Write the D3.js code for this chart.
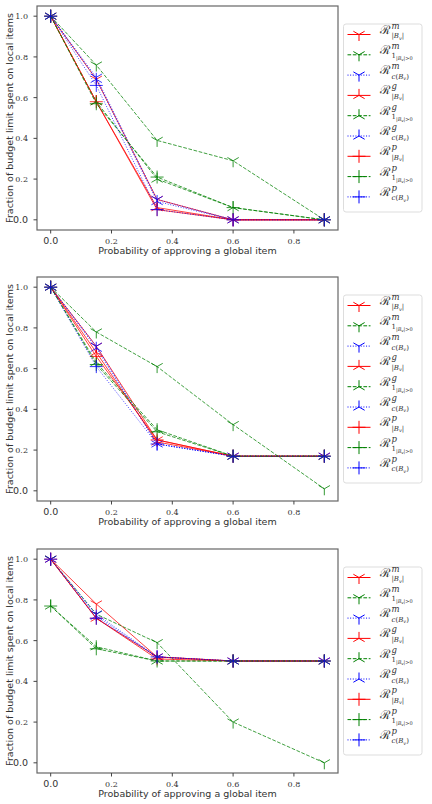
<!DOCTYPE html>
<html>
<head>
<meta charset="utf-8">
<script src="https://cdn.jsdelivr.net/npm/d3@7"></script>
<style>
  body { margin: 0; background: #fff; }
  svg { display: block; }
</style>
</head>
<body>
<script>
// x positions shared by every series
var xValues = [0, 0.15, 0.35, 0.6, 0.9];
var xTicks = [0, 0.2, 0.4, 0.6, 0.8];
var yTicks = [0, 0.2, 0.4, 0.6, 0.8, 1.0];

// series order: (m,g,p) x (|Bv|, 1_{|Bv|>0}, c(Bv))
var seriesKeys = ["m_B", "m_1", "m_c", "g_B", "g_1", "g_c", "p_B", "p_1", "p_c"];

// top panel
var panel1 = {
  m_B: [1, 0.69, 0.10, 0, 0],
  m_1: [1, 0.76, 0.39, 0.29, 0],
  m_c: [1, 0.70, 0.10, 0, 0],
  g_B: [1, 0.58, 0.06, 0, 0],
  g_1: [1, 0.58, 0.20, 0.06, 0],
  g_c: [1, 0.69, 0.09, 0, 0],
  p_B: [1, 0.58, 0.05, 0, 0],
  p_1: [1, 0.57, 0.21, 0.06, 0],
  p_c: [1, 0.66, 0.05, 0, 0]
};
// middle panel
var panel2 = {
  m_B: [1, 0.71, 0.25, 0.17, 0.17],
  m_1: [1, 0.78, 0.61, 0.325, 0.01],
  m_c: [1, 0.71, 0.23, 0.17, 0.17],
  g_B: [1, 0.68, 0.24, 0.17, 0.17],
  g_1: [1, 0.63, 0.30, 0.17, 0.17],
  g_c: [1, 0.70, 0.23, 0.17, 0.17],
  p_B: [1, 0.66, 0.25, 0.17, 0.17],
  p_1: [1, 0.62, 0.29, 0.17, 0.17],
  p_c: [1, 0.61, 0.23, 0.17, 0.17]
};
// bottom panel
var panel3 = {
  m_B: [1, 0.78, 0.52, 0.5, 0.5],
  m_1: [1, 0.73, 0.59, 0.20, 0],
  m_c: [1, 0.73, 0.52, 0.5, 0.5],
  g_B: [1, 0.71, 0.52, 0.5, 0.5],
  g_1: [0.77, 0.57, 0.50, 0.5, 0.5],
  g_c: [1, 0.72, 0.52, 0.5, 0.5],
  p_B: [1, 0.71, 0.51, 0.5, 0.5],
  p_1: [0.77, 0.56, 0.50, 0.5, 0.5],
  p_c: [1, 0.71, 0.52, 0.5, 0.5]
};

var panels = [panel1, panel2, panel3];
var panelTops = [6, 277, 549];

(function draw(){
  var width = 432, height = 804;
  var plotLeft = 37, plotRight = 338, plotH = 224;

  var colors = { B: "#ff0000", "1": "#008000", c: "#0000ff" };
  var dashes = { B: null, "1": "3.7,1.6", c: "1,1.65" };

  var svg = d3.select("body").append("svg")
    .attr("width", width)
    .attr("height", height);

  var x = d3.scaleLinear().domain([-0.045, 0.945]).range([plotLeft, plotRight]);

  //marker shapes: m = tri_down, g = tri_up, p = plus
  function markerPath(kind, r){
    if (kind === "m") {
      return "M0,0L0," + r + "M0,0L" + (-0.866*r) + "," + (-0.5*r) + "M0,0L" + (0.866*r) + "," + (-0.5*r);
    } else if (kind === "g") {
      return "M0,0L0," + (-r) + "M0,0L" + (-0.866*r) + "," + (0.5*r) + "M0,0L" + (0.866*r) + "," + (0.5*r);
    }
    return "M" + (-r) + ",0L" + r + ",0M0," + (-r) + "L0," + r;
  }

  panels.forEach(function(data, pi){
    var top = panelTops[pi];
    var y = d3.scaleLinear().domain([-0.05, 1.05]).range([top + plotH, top]);
    var g = svg.append("g");

    //series lines and markers
    seriesKeys.forEach(function(key){
      var kind = key[0], cat = key.split("_")[1];
      var vals = data[key];
      var pts = xValues.map(function(xv, i){ return [x(xv), y(vals[i])]; });
      var line = d3.line();
      g.append("path")
        .attr("d", line(pts))
        .attr("fill", "none")
        .attr("stroke", colors[cat])
        .attr("stroke-width", 1)
        .attr("stroke-opacity", 0.75)
        .attr("stroke-dasharray", dashes[cat]);
      g.selectAll(null)
        .data(pts)
        .enter()
        .append("path")
        .attr("transform", function(d){ return "translate(" + d[0] + "," + d[1] + ")"; })
        .attr("d", markerPath(kind, 6.5))
        .attr("fill", "none")
        .attr("stroke", colors[cat])
        .attr("stroke-opacity", 0.8)
        .attr("stroke-width", 1);
    });

    //frame
    g.append("rect")
      .attr("x", plotLeft).attr("y", top)
      .attr("width", plotRight - plotLeft).attr("height", plotH)
      .attr("fill", "none")
      .attr("stroke", "#666")
      .attr("stroke-width", 1.2);

    //y ticks
    yTicks.forEach(function(t){
      var yy = y(t);
      g.append("line")
        .attr("x1", plotLeft - 3.5).attr("x2", plotLeft)
        .attr("y1", yy).attr("y2", yy)
        .attr("stroke", "#444");
      g.append("text")
        .attr("x", plotLeft - 9).attr("y", yy + 3)
        .attr("text-anchor", "end")
        .style("font-family", t === 0 ? "DejaVu Sans" : "DejaVu Serif")
        .style("font-size", t === 0 ? "9.5px" : "8px")
        .attr("fill", "#333")
        .text(t.toFixed(1));
    });

    //x ticks
    xTicks.forEach(function(t){
      var xx = x(t);
      g.append("line")
        .attr("x1", xx).attr("x2", xx)
        .attr("y1", top + plotH).attr("y2", top + plotH + 3.5)
        .attr("stroke", "#444");
      g.append("text")
        .attr("x", xx).attr("y", top + plotH + 14)
        .attr("text-anchor", "middle")
        .style("font-family", t === 0 ? "DejaVu Sans" : "DejaVu Serif")
        .style("font-size", t === 0 ? "9.5px" : "8px")
        .attr("fill", "#333")
        .text(t.toFixed(1));
    });

    //axis labels
    g.append("text")
      .attr("x", (plotLeft + plotRight) / 2).attr("y", top + plotH + 24)
      .attr("text-anchor", "middle")
      .style("font-family", "DejaVu Sans")
      .style("font-size", "9.5px")
      .attr("fill", "#333")
      .text("Probability of approving a global item");
    g.append("text")
      .attr("transform", "translate(12.5," + (top + plotH / 2) + ") rotate(-90)")
      .attr("text-anchor", "middle")
      .style("font-family", "DejaVu Sans")
      .style("font-size", "9.5px")
      .attr("fill", "#333")
      .text("Fraction of budget limit spent on local items");

    //legend
    var legTop = top + plotH / 2 - 94;
    var leg = g.append("g");
    leg.append("rect")
      .attr("x", 343.5).attr("y", legTop)
      .attr("width", 78.5).attr("height", 188)
      .attr("rx", 2.5)
      .attr("fill", "#fff")
      .attr("stroke", "#ddd");
    seriesKeys.forEach(function(key, i){
      var kind = key[0], cat = key.split("_")[1];
      var ey = legTop + 10.5 + i * 20.3;
      leg.append("line")
        .attr("x1", 347.5).attr("x2", 370.5)
        .attr("y1", ey).attr("y2", ey)
        .attr("stroke", colors[cat])
        .attr("stroke-dasharray", dashes[cat]);
      leg.append("path")
        .attr("transform", "translate(359," + ey + ")")
        .attr("d", markerPath(kind, 6.5))
        .attr("fill", "none")
        .attr("stroke", colors[cat]);
      leg.append("text")
        .attr("x", 380).attr("y", ey - 1)
        .style("font-family", "DejaVu Serif")
        .style("font-size", "12px")
        .attr("fill", "#333")
        .text("\u211B");
      leg.append("text")
        .attr("x", 391.5).attr("y", ey - 6)
        .style("font-family", "DejaVu Serif")
        .style("font-style", "italic")
        .style("font-size", "8.5px")
        .attr("fill", "#333")
        .text(kind);
      var sub = leg.append("text")
        .attr("x", 391.5).attr("y", ey + 3.5)
        .style("font-family", "DejaVu Serif")
        .style("font-size", "7px")
        .attr("fill", "#333");
      if (cat === "B") {
        sub.append("tspan").text("|");
        sub.append("tspan").style("font-style", "italic").text("B");
        sub.append("tspan").style("font-style", "italic").style("font-size", "5px").attr("dy", 1.5).text("v");
        sub.append("tspan").attr("dy", -1.5).text("|");
      } else if (cat === "1") {
        sub.append("tspan").text("1");
        sub.append("tspan").style("font-size", "5px").attr("dy", 1.5).text("|");
        sub.append("tspan").style("font-size", "5px").style("font-style", "italic").text("B");
        sub.append("tspan").style("font-size", "4px").style("font-style", "italic").attr("dy", 1).text("v");
        sub.append("tspan").style("font-size", "5px").attr("dy", -1).text("|>0");
      } else {
        sub.append("tspan").style("font-style", "italic").text("c");
        sub.append("tspan").text("(");
        sub.append("tspan").style("font-style", "italic").text("B");
        sub.append("tspan").style("font-style", "italic").style("font-size", "5px").attr("dy", 1.5).text("v");
        sub.append("tspan").attr("dy", -1.5).text(")");
      }
    });
  });
})();
</script>
</body>
</html>
